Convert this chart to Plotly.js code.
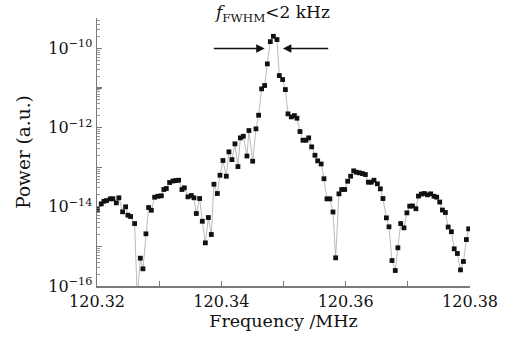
<!DOCTYPE html>
<html>
<head>
<meta charset="utf-8">
<script src="https://cdn.plot.ly/plotly-3.0.1.min.js"></script>
<style>html,body{margin:0;padding:0;background:#fff;}#chart{width:516px;height:339px;}</style>
</head>
<body>
<div id="chart"></div>
<script>
// Frequency (MHz)
const frequency = [
 120.32005,120.32069,120.32111,120.32154,120.32214,120.32256,120.32311,120.32352,120.32412,120.32460,
 120.32497,120.32541,120.32605,120.32648,120.32697,120.32739,120.32787,120.32830,120.32874,120.32927,
 120.32980,120.33035,120.33076,120.33115,120.33168,120.33221,120.33265,120.33313,120.33366,120.33405,
 120.33463,120.33517,120.33559,120.33598,120.33651,120.33694,120.33743,120.33791,120.33839,120.33881,
 120.33936,120.33978,120.34026,120.34080,120.34122,120.34171,120.34219,120.34267,120.34306,120.34354,
 120.34412,120.34444,120.34504,120.34557,120.34600,120.34648,120.34696,120.34740,120.34788,120.34837,
 120.34895,120.34933,120.34986,120.35030,120.35072,120.35126,120.35175,120.35216,120.35265,120.35313,
 120.35361,120.35405,120.35453,120.35506,120.35550,120.35606,120.35651,120.35699,120.35746,120.35796,
 120.35839,120.35892,120.35936,120.35984,120.36032,120.36080,120.36129,120.36172,120.36220,120.36269,
 120.36317,120.36365,120.36413,120.36455,120.36510,120.36558,120.36600,120.36655,120.36697,120.36745,
 120.36798,120.36840,120.36885,120.36938,120.36985,120.37030,120.37075,120.37130,120.37171,120.37218,
 120.37266,120.37315,120.37368,120.37421,120.37464,120.37513,120.37556,120.37604,120.37649,120.37701,
 120.37746,120.37797,120.37847,120.37894,120.37942,120.37979
];
// Power (a.u.)
const power = [
 8.55e-15,1.19e-14,1.38e-14,1.44e-14,1.59e-14,1.60e-14,1.26e-14,1.69e-14,7.48e-15,1.00e-14,
 6.14e-15,5.69e-15,3.78e-15,5.0e-17,5.04e-16,2.72e-16,2.08e-15,9.60e-15,8.20e-15,1.75e-14,
 1.85e-14,1.90e-14,2.74e-14,2.90e-14,4.11e-14,4.49e-14,4.61e-14,4.70e-14,2.74e-14,3.02e-14,
 1.79e-14,1.93e-14,1.69e-14,6.78e-15,1.62e-14,4.32e-15,1.23e-15,5.37e-15,2.00e-15,3.72e-14,
 2.17e-14,6.28e-14,1.48e-13,5.93e-14,2.45e-13,1.56e-13,3.90e-13,1.04e-13,5.52e-13,6.07e-13,
 1.92e-13,8.45e-13,1.42e-13,9.33e-13,2.06e-12,9.55e-12,1.16e-11,4.08e-11,1.49e-10,2.03e-10,
 1.68e-10,2.07e-11,1.64e-11,9.16e-12,2.23e-12,1.87e-12,2.02e-12,1.73e-12,7.98e-13,4.81e-13,
 4.81e-13,5.52e-13,3.27e-13,2.01e-13,1.45e-13,1.21e-13,5.13e-14,1.59e-14,1.59e-14,7.40e-15,
 5.15e-16,2.13e-14,2.74e-14,2.74e-14,4.43e-14,5.93e-14,8.11e-14,7.48e-14,7.22e-14,6.93e-14,
 6.54e-14,4.18e-14,4.18e-14,4.70e-14,3.81e-14,2.85e-14,1.62e-14,5.27e-15,3.13e-15,4.40e-16,
 2.46e-16,9.23e-16,3.78e-15,2.95e-15,7.05e-15,1.04e-14,1.05e-14,8.95e-15,1.87e-14,2.10e-14,
 2.17e-14,2.01e-14,2.13e-14,1.85e-14,1.75e-14,1.32e-14,8.30e-15,7.18e-15,3.09e-15,2.35e-15,
 8.70e-16,6.62e-16,2.55e-16,4.16e-16,1.49e-15,2.78e-15
];
// Tick labels
const xTickVals = [120.32,120.33,120.34,120.35,120.36,120.37,120.38];
const xTickText = ['120.32','','120.34','','120.36','','120.38'];
const yDecades = [-16,-15,-14,-13,-12,-11,-10,-9];
const yTickText = ['10<sup>\u221216</sup>','','10<sup>\u221214</sup>','','10<sup>\u221212</sup>','','10<sup>\u221210</sup>',''];

const yTickVals = yDecades.map(d => Math.pow(10, d));
const yMinor = [];
yDecades.forEach(d => { for (let k = 2; k <= 9; k++) yMinor.push(k * Math.pow(10, d)); });

const FONT = 'DejaVu Serif';
const axisColor = '#7a7a7a';

const trace = {
  x: frequency, y: power, type: 'scatter', mode: 'lines+markers',
  line: {color: '#a8a8a8', width: 0.8},
  marker: {symbol: 'square', size: 4.8, color: '#111'},
  hoverinfo: 'skip'
};

const layout = {
  width: 516, height: 339,
  margin: {l: 97.4, r: 46, t: 18.3, b: 52.5},
  paper_bgcolor: '#fff', plot_bgcolor: '#fff',
  showlegend: false,
  font: {family: FONT, size: 16, color: '#111'},
  xaxis: {
    range: [120.32, 120.38], tickmode: 'array', tickvals: xTickVals, ticktext: xTickText,
    ticks: 'inside', ticklen: 5, tickwidth: 1.2, tickcolor: axisColor,
    showline: true, linecolor: axisColor, linewidth: 1.5, mirror: false,
    showgrid: false, zeroline: false,
    tickfont: {family: FONT, size: 16, color: '#111'},
    title: {text: 'Frequency /MHz', font: {family: FONT, size: 17.5, color: '#111'}, standoff: 3}
  },
  yaxis: {
    type: 'log', range: [-16, -9.23], tickmode: 'array', tickvals: yTickVals, ticktext: yTickText,
    ticks: 'inside', ticklen: 5, tickwidth: 1.2, tickcolor: axisColor,
    minor: {tickmode: 'array', tickvals: yMinor, ticks: 'inside', ticklen: 2.5, tickwidth: 0.8, tickcolor: axisColor, showgrid: false},
    showline: true, linecolor: axisColor, linewidth: 1.5, mirror: false,
    showgrid: false, zeroline: false,
    tickfont: {family: FONT, size: 16, color: '#111'},
    title: {text: 'Power (a.u.)', font: {family: FONT, size: 18.5, color: '#111'}, standoff: 13}
  },
  annotations: [
    {x: 120.34697, y: -10, ax: 120.33855, ay: -10, xref: 'x', yref: 'y', axref: 'x', ayref: 'y',
     text: '', showarrow: true, arrowhead: 2, arrowsize: 1.3, arrowwidth: 1.3, arrowcolor: '#111'},
    {x: 120.34991, y: -10, ax: 120.35743, ay: -10, xref: 'x', yref: 'y', axref: 'x', ayref: 'y',
     text: '', showarrow: true, arrowhead: 2, arrowsize: 1.3, arrowwidth: 1.3, arrowcolor: '#111'},
    {x: 120.34813, y: 1.015, xref: 'x', yref: 'paper', xanchor: 'center', yanchor: 'middle',
     text: '<i>f</i><sub>FWHM</sub><2 kHz', showarrow: false,
     font: {family: FONT, size: 17, color: '#111'}}
  ]
};

Plotly.newPlot('chart', [trace], layout, {staticPlot: true, displayModeBar: false});
</script>
</body>
</html>
